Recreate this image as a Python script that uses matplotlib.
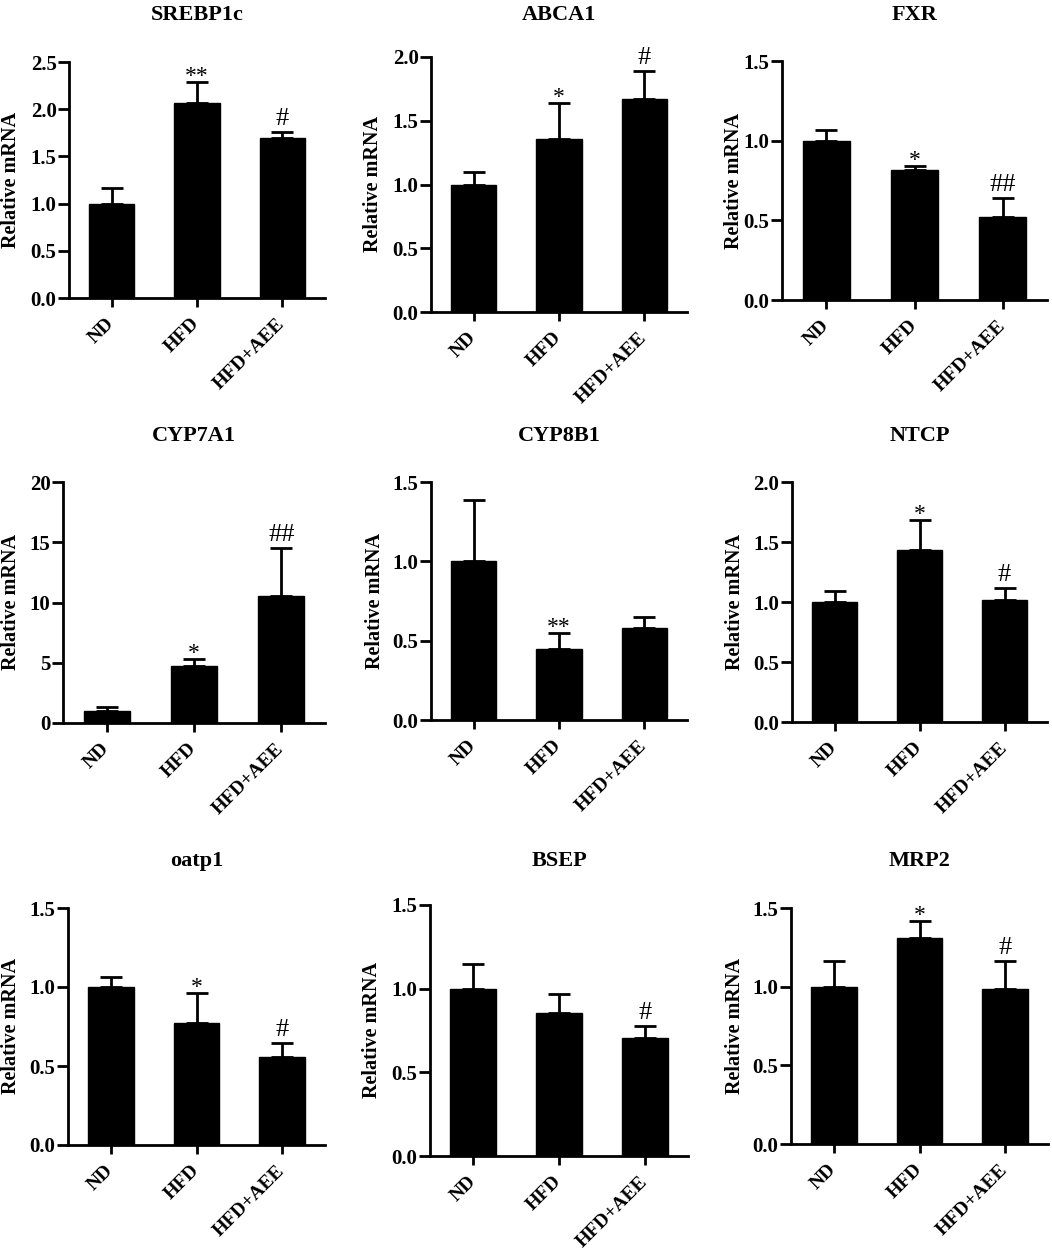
import matplotlib
matplotlib.use("Agg")
import matplotlib.pyplot as plt
import numpy as np

plt.rcParams['font.family'] = ['Liberation Serif', 'DejaVu Serif']

groups = ["ND", "HFD", "HFD+AEE"]
genes = ["SREBP1c", "ABCA1", "FXR", "CYP7A1", "CYP8B1", "NTCP", "oatp1", "BSEP", "MRP2"]

srebp1c_mean = [1.00, 2.07, 1.70]
srebp1c_sem = [0.16, 0.22, 0.06]
abca1_mean = [1.00, 1.36, 1.67]
abca1_sem = [0.10, 0.28, 0.22]
fxr_mean = [1.00, 0.815, 0.52]
fxr_sem = [0.065, 0.025, 0.12]
cyp7a1_mean = [1.02, 4.70, 10.50]
cyp7a1_sem = [0.28, 0.60, 4.00]
cyp8b1_mean = [1.00, 0.45, 0.58]
cyp8b1_sem = [0.385, 0.097, 0.07]
ntcp_mean = [1.00, 1.435, 1.015]
ntcp_sem = [0.095, 0.25, 0.10]
oatp1_mean = [1.00, 0.773, 0.558]
oatp1_sem = [0.065, 0.19, 0.09]
bsep_mean = [1.00, 0.855, 0.705]
bsep_sem = [0.145, 0.115, 0.07]
mrp2_mean = [1.00, 1.31, 0.985]
mrp2_sem = [0.16, 0.11, 0.18]

srebp1c_sig = ["", "**", "#"]
abca1_sig = ["", "*", "#"]
fxr_sig = ["", "*", "##"]
cyp7a1_sig = ["", "*", "##"]
cyp8b1_sig = ["", "**", ""]
ntcp_sig = ["", "*", "#"]
oatp1_sig = ["", "*", "#"]
bsep_sig = ["", "", "#"]
mrp2_sig = ["", "*", "#"]

y_max = [2.5, 2.0, 1.5, 20, 1.5, 2.0, 1.5, 1.5, 1.5]
y_step = [0.5, 0.5, 0.5, 5, 0.5, 0.5, 0.5, 0.5, 0.5]

means = [srebp1c_mean, abca1_mean, fxr_mean, cyp7a1_mean, cyp8b1_mean,
         ntcp_mean, oatp1_mean, bsep_mean, mrp2_mean]
sems = [srebp1c_sem, abca1_sem, fxr_sem, cyp7a1_sem, cyp8b1_sem,
        ntcp_sem, oatp1_sem, bsep_sem, mrp2_sem]
sigs = [srebp1c_sig, abca1_sig, fxr_sig, cyp7a1_sig, cyp8b1_sig,
        ntcp_sig, oatp1_sig, bsep_sig, mrp2_sig]

W, H = 1052, 1251
fig = plt.figure(figsize=(W / 100, H / 100), dpi=100)

# axes boxes in pixels: x0, x1, y_top, y_bottom
boxes = [
    (69, 325, 62, 298), (431, 687, 57, 312), (782, 1047, 61, 300),
    (63, 325, 482, 723), (431, 687, 482, 720), (792, 1047, 482, 722),
    (68, 325, 908, 1145), (430, 688, 905, 1156), (791, 1048, 908, 1144),
]
label_gap = [48, 48, 38, 42, 46, 47, 47, 48, 46]
title_base = [20, 20, 20, 441, 441, 441, 866, 866, 866]

for i in range(9):
    x0, x1, yt, yb = boxes[i]
    ax = fig.add_axes([x0 / W, 1 - yb / H, (x1 - x0) / W, (yb - yt) / H])
    x = np.arange(len(groups))
    m = means[i]
    s = sems[i]
    ax.bar(x, m, width=0.53, color='black', edgecolor='black', zorder=2)
    ax.errorbar(x, m, yerr=[np.zeros(len(s)), s], fmt='none', ecolor='black',
                elinewidth=2, capsize=8, capthick=2, zorder=1)
    ax.set_xlim(-0.5, 2.5)
    ax.set_ylim(0, y_max[i])
    ticks = np.arange(0, y_max[i] + y_step[i] / 2, y_step[i])
    ax.set_yticks(ticks)
    if y_step[i] >= 1:
        ax.set_yticklabels([f"{t:.0f}" for t in ticks])
    else:
        ax.set_yticklabels([f"{t:.1f}" for t in ticks])
    ax.set_xticks(x)
    ax.set_xticklabels(groups, rotation=45, ha='right', va='center',
                       rotation_mode='anchor', fontsize=14, fontweight='bold')
    for lab in ax.get_yticklabels():
        lab.set_fontsize(15)
        lab.set_fontweight('bold')
    ax.tick_params(axis='y', direction='out', length=8, width=2, pad=1)
    ax.tick_params(axis='x', direction='out', length=6.5, width=2, pad=10)
    for sp in ['top', 'right']:
        ax.spines[sp].set_visible(False)
    for sp in ['left', 'bottom']:
        ax.spines[sp].set_linewidth(2)
    ax.set_ylabel("Relative mRNA", fontsize=14.5, fontweight='bold')
    ax.yaxis.set_label_coords(-label_gap[i] / (x1 - x0), 0.5)
    for j in range(len(groups)):
        lab = sigs[i][j]
        if not lab:
            continue
        top = m[j] + s[j]
        if '#' in lab:
            off = 5
            fs = 19
        else:
            off = 0
            fs = 17
        ax.annotate(lab, xy=(x[j], top), xytext=(0, off), textcoords='offset points',
                    ha='center', va='baseline', fontsize=fs, annotation_clip=False)
    fig.text(((x0 + x1) / 2) / W, 1 - title_base[i] / H, genes[i], ha='center',
             va='baseline', fontsize=16, fontweight='bold')

fig.savefig("out.png", dpi=100, facecolor='white')
